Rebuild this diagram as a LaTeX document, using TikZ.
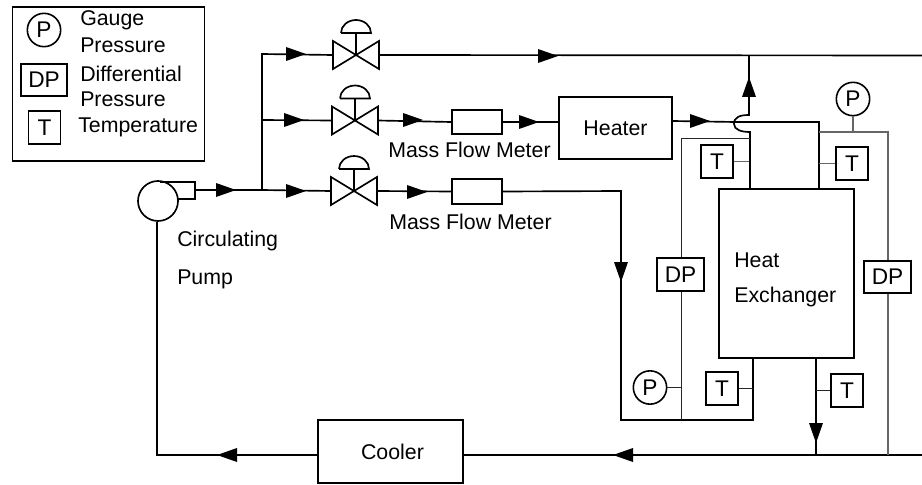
\documentclass[tikz,border=0pt]{standalone}
\usepackage{fontspec}
\setmainfont{Liberation Sans}
\tikzset{
  pipe/.style={line width=1.25pt,black,line join=miter},
  thinblack/.style={line width=0.7pt,black!85},
  thingray/.style={line width=0.8pt,black!60},
  equip/.style={draw,line width=1.25pt,inner sep=0pt,font=\fontsize{16}{18}\selectfont},
  inst/.style={draw,line width=1.35pt,inner sep=0pt,font=\fontsize{17}{18}\selectfont},
  tbox/.style={inst,rectangle,minimum width=24pt,minimum height=24.5pt},
  dpbox/.style={inst,rectangle,minimum width=35pt,minimum height=24.5pt},
  pcirc/.style={inst,line width=1.2pt,circle,minimum size=25pt},
  lab/.style={inner sep=0pt,anchor=west,font=\fontsize{16}{18}\selectfont},
  pics/flowhead/.style={code={\fill[black] (0,0) -- (-20,-7) -- (-20,7) -- cycle;}},
  pics/valve/.style={code={
    \draw[pipe] (-23,-14) -- (23,14) -- (23,-14) -- (-23,14) -- cycle;
    \draw[pipe] (0,0) -- (0,-22);
    \draw[pipe] (-15,-22) -- (15,-22) arc[start angle=0,end angle=-180,x radius=15,y radius=13];
    \coordinate (-in) at (-23,0);
    \coordinate (-out) at (23,0);
  }}
}
\begin{document}
\begin{tikzpicture}[x=0.75pt,y=-0.75pt]
\useasboundingbox (0,0) rectangle (922,485);
% legend
\node[draw,line width=0.9pt,inner sep=0pt,minimum width=144.5pt,minimum height=115.5pt] (legend) at (108.5,84) {};
\node[pcirc] (lgp) at (44,30) {P};
\node[dpbox] (lgdp) at (44,80) {DP};
\node[tbox] (lgt) at (44.5,127.5) {T};
\node[lab] (lg1) at (80,20) {Gauge};
\node[lab] (lg2) at (80,45) {Pressure};
\node[lab] (lg3) at (80,74) {Differential};
\node[lab] (lg4) at (80,99) {Pressure};
\node[lab] (lg5) at (78,127) {Temperature};
% equipment
\node[equip,rectangle,minimum width=84.75pt,minimum height=46.5pt] (heater) at (615.5,128) {Heater};
\node[equip,rectangle,minimum width=108.75pt,minimum height=47.25pt] (cooler) at (390.5,451.5) {\hspace{3pt}Cooler};
\node[equip,rectangle,minimum width=101.25pt,minimum height=126.75pt] (hx) at (786.5,273.5) {};
\node[lab] (hxa) at (734,260) {Heat};
\node[lab] (hxb) at (734,297) {Exchanger};
\node[equip,rectangle,minimum width=37.5pt,minimum height=18pt] (m2) at (477,122) {};
\node[equip,rectangle,minimum width=37.5pt,minimum height=18.75pt] (m3) at (477,191.5) {};
\node[lab] (m2t) at (388,150) {Mass Flow Meter};
\node[lab] (m3t) at (389,222) {Mass Flow Meter};
\node[lab] (pa) at (177,241) {Circulating};
\node[lab] (pb) at (177,279) {Pump};
% pump
\node[draw,line width=1.25pt,circle,minimum size=30pt,inner sep=0pt] (pump) at (158,201) {};
\coordinate (nout) at (195,190);
\draw[pipe] (160,182) -- (195,182) -- (195,199) -- (178,199);
% valves
\pic (v1) at (356,55) {valve};
\pic (v2) at (355,120.5) {valve};
\pic (v3) at (354,191) {valve};
% instruments
\node[pcirc] (ptop) at (853,99) {P};
\node[tbox] (t1) at (717,161.5) {T};
\node[tbox] (t2) at (852,163.5) {T};
\node[dpbox] (dpl) at (680.5,274.5) {DP};
\node[dpbox] (dpr) at (887.5,277) {DP};
\node[pcirc] (pbot) at (650,387.5) {P};
\node[tbox] (t3) at (722,388.5) {T};
\node[tbox] (t4) at (847,390.5) {T};
% junctions
\coordinate (jmain) at (262,190);
\coordinate (jtop) at (262,54);
\coordinate (jmid) at (262,120);
\coordinate (hump) at (749,115);
\coordinate (humpb) at (750,132);
\coordinate (hm) at (735,122);
\coordinate (jr) at (819,122);
\coordinate (outend) at (922,55.5);
\coordinate (botend) at (922,455);
% process lines
\draw[pipe] (nout) -- (jmain) -- (v3-in);
\draw[pipe] (jmain) -- (jtop) -- (v1-in);
\draw[pipe] (jmid) -- (v2-in);
\draw[pipe] (v1-out) -- (outend);
\draw[pipe] (v2-out) -- (m2.west);
\draw[pipe] (m2.east) -- (heater.west |- m2.east);
\draw[pipe] (v3-out) -- (m3.west);
\coordinate (c1) at (621,191);
\coordinate (c2) at (621,420);
\coordinate (c3) at (753,420);
\draw[pipe] (m3.east) -- (c1) -- (c2) -- (c3) -- (c3 |- hx.south);
\draw[pipe] (heater.east |- 0,121) -- (hm) -- (jr) -- (jr |- hx.north);
\draw[pipe] (749,55.5) -- (hump) .. controls (740,115) and (734,117) .. (734,124) .. controls (734,130) and (742,132) .. (humpb) -- (humpb |- hx.north);
\coordinate (jb) at (816,455);
\draw[pipe] (jb |- hx.south) -- (jb);
\draw[pipe] (botend) -- (cooler.east |- botend);
\coordinate (pk) at (157,455);
\draw[pipe] (cooler.west |- pk) -- (pk) -- (pk |- pump.south);
% instrument lines
\coordinate (tl) at (681,138);
\draw[thinblack] (750,138) -- (tl) -- (dpl.north -| tl);
\draw[thinblack] (dpl.south -| tl) -- (tl |- c2);
\draw[thinblack] (pbot.east) -- (pbot.east -| tl);
\draw[thingray] (t1.east) -- (t1.east -| hump);
\draw[thingray] (t2.west) -- (t2.west -| jr);
\draw[thingray] (819,132) -- (888,132) -- (888,260);
\draw[thingray] (dpr.south -| 888,0) -- (888,455);
\draw[thingray] (ptop.south) -- (ptop.south |- 0,132);
\draw[thinblack] (t3.east) -- (t3.east -| c3);
\draw[thinblack] (t4.west) -- (t4.west -| jb);
% flow arrowheads
\pic at (236,190) {flowhead};
\pic at (306,54) {flowhead};
\pic at (304,120) {flowhead};
\pic at (306,191) {flowhead};
\pic at (558,56) {flowhead};
\pic at (423,120) {flowhead};
\pic at (539,122) {flowhead};
\pic at (427,192) {flowhead};
\pic at (710,121) {flowhead};
\pic[rotate=90] at (749,77) {flowhead};
\pic[rotate=-90] at (621,282) {flowhead};
\pic[rotate=-90] at (816,443) {flowhead};
\pic[rotate=180] at (613,455) {flowhead};
\pic[rotate=180] at (217,455) {flowhead};
\end{tikzpicture}
\end{document}
